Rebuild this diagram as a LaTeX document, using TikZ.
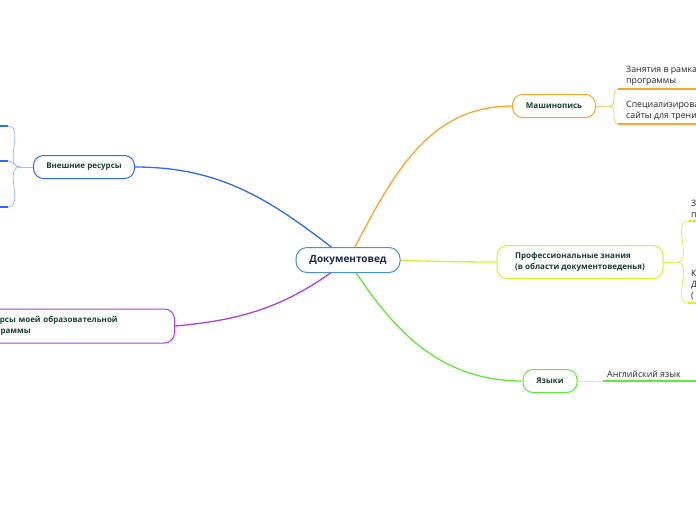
\documentclass[tikz,border=0pt]{standalone}
\usepackage{fontspec}
\setmainfont{Open Sans}
\usetikzlibrary{positioning, calc, backgrounds}
\definecolor{rootC}{RGB}{70, 145, 215}
\definecolor{extC}{RGB}{45, 105, 255}
\definecolor{eduC}{RGB}{175, 60, 240}
\definecolor{typC}{RGB}{255, 165, 40}
\definecolor{proC}{RGB}{215, 240, 40}
\definecolor{lanC}{RGB}{95, 235, 55}
\definecolor{txtC}{RGB}{25, 65, 50}
\definecolor{rootT}{RGB}{25, 40, 80}

\begin{document}
\begin{tikzpicture}[x=1pt, y=-1pt,
    topic/.style={draw, fill=white, rounded corners=10pt, line width=1pt,
                  font=\fontsize{8}{11.5}\selectfont\bfseries, text=txtC,
                  minimum height=23pt},
    leaf/.style={font=\fontsize{8.8}{11}\selectfont, text=black!85,
                 align=left, inner xsep=1pt, inner ysep=2pt},
    link/.style={line width=1.3pt},
    twig/.style={line width=0.8pt},
    bar/.style={line width=1.8pt}]
        \useasboundingbox (0,0) rectangle (696,520);
        \clip (0,0) rectangle (696,520);

        % ── Root ─────────────────────────────────────────────────────────
        \node[topic, draw=rootC, text=rootT, minimum width=104pt,
              minimum height=25pt, rounded corners=11pt,
              font=\fontsize{10}{12}\selectfont\bfseries]
              (doc) at (348,260) {Документовед};

        % ── Main topics ──────────────────────────────────────────────────
        \node[topic, draw=extC, minimum width=101pt] (ext) at (84,167)
              {Внешние ресурсы};
        \node[topic, draw=eduC, minimum height=34pt, anchor=east,
              align=left, text width=181pt, inner xsep=12pt]
              (edu) at (175,326) {Ресурсы моей образовательной\\программы};
        \node[topic, draw=typC, minimum width=83pt] (typ) at (554,106)
              {Машинопись};
        \node[topic, draw=proC, minimum width=166pt, minimum height=33pt,
              align=left, inner xsep=18pt] (pro) at (580,262)
              {Профессиональные знания\\(в области документоведенья)};
        \node[topic, draw=lanC, minimum width=54pt] (lan) at (550,381)
              {Языки};

        % ── Sub points ───────────────────────────────────────────────────
        \coordinate (extK) at (20,167);
        \coordinate (extA) at (8,126);
        \coordinate (extB) at (8,161);
        \coordinate (extC) at (8,207);
        \coordinate (typK) at (610,106);
        \coordinate (typA) at (618,89);
        \coordinate (typB) at (618,124);
        \coordinate (proK) at (677,262);
        \coordinate (proA) at (688,221);
        \coordinate (proB) at (688,303);
        \coordinate (lanK) at (603,381);

        \node[leaf, anchor=south west] (typAt) at (625,88)
              {Занятия в рамка\\программы};
        \node[leaf, anchor=south west] (typBt) at (625,123)
              {Специализирова\\сайты для трени};
        \node[leaf, anchor=south west] (proAt) at (690,220) {З\\п};
        \node[leaf, anchor=south west] (proBt) at (690,302) {К\\Д\\(};
        \node[leaf, anchor=south west] (lanAt) at (606,380)
              {Английский язык};

        \begin{scope}[on background layer]
        % ── Connectors ───────────────────────────────────────────────────
        \draw[link, extC] (doc.center) to[out=142, in=0] (ext.east);
        \draw[link, eduC] (doc.center) to[out=-142, in=5] (edu.east);
        \draw[link, typC] (doc.center) to[out=62, in=180] (typ.west);
        \draw[link, proC] (doc.center) to[out=0, in=180] (pro.west);
        \draw[link, lanC] (doc.center) to[out=-58, in=180] (lan.west);

        % ── Branches ─────────────────────────────────────────────────────
        \draw[twig, extC!45] (ext.west) -- (extK);
        \foreach \p in {extA, extB, extC}
          \draw[twig, extC!45] (extK) to[out=180, in=0] (\p);
        \foreach \p in {extA, extB, extC}
          \draw[bar, extC] (\p) -- ++(-12,0);

        \draw[twig, typC!60] (typ.east) -- (typK);
        \draw[twig, typC!60] (typK) to[out=0, in=180] (typA);
        \draw[twig, typC!60] (typK) to[out=0, in=180] (typB);
        \draw[bar, typC] (typA) -- ++(90,0);
        \draw[bar, typC] (typB) -- ++(90,0);

        \draw[twig, proC!80] (pro.east) -- (proK);
        \draw[twig, proC!80] (proK) to[out=0, in=180] (proA);
        \draw[twig, proC!80] (proK) to[out=0, in=180] (proB);
        \draw[bar, proC] (proA) -- ++(20,0);
        \draw[bar, proC] (proB) -- ++(20,0);

        \draw[twig, lanC!35] (lan.east) -- (lanK);
        \draw[bar, lanC] (lanK) -- ++(100,0);
        \end{scope}
\end{tikzpicture}
\end{document}
